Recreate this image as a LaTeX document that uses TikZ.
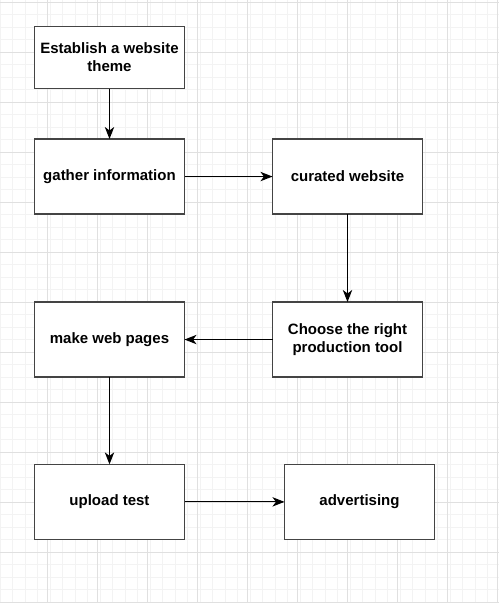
\documentclass[tikz,border=0pt]{standalone}
\usepackage{fontspec}
\setmainfont{Liberation Sans}
\usepackage{xcolor}
\usepackage{tikz}
\usetikzlibrary{positioning,arrows.meta}
\definecolor{boxline}{RGB}{68,68,68}
\definecolor{gridminor}{RGB}{243,243,243}
\definecolor{gridmajor}{RGB}{224,224,224}
\tikzset{
  box/.style  = {draw=boxline, line width=1pt, fill=white, align=center, outer sep=0pt,
                 minimum width=112.5pt, minimum height=56.25pt,
                 font=\bfseries\fontsize{11.25}{13.3}\selectfont},
  flow/.style = {-{Stealth[length=9pt,width=7pt,inset=2.6pt]}, line width=0.9pt, draw=black},
}

\begin{document}
\begin{tikzpicture}[x=0.75pt, y=-0.75pt]
  \useasboundingbox (0,0) rectangle (499,603);
  % grid
  \foreach \gx in {0,12.5,...,499} \draw[gridminor, line width=0.75pt] (\gx,0) -- (\gx,603);
  \foreach \gy in {2,14.5,...,603} \draw[gridminor, line width=0.75pt] (0,\gy) -- (499,\gy);
  \foreach \gx in {47.5,97.5,...,499} \draw[gridmajor, line width=0.75pt] (\gx,0) -- (\gx,603);
  \foreach \gy in {2,52,...,603} \draw[gridmajor, line width=0.75pt] (0,\gy) -- (499,\gy);

  \node[box, minimum height=46.9pt] (theme) at (109.5,57.5) {Establish a website\\theme};
  \node[box, below=37.7pt of theme] (gather) {gather information};
  \node[box, right=66pt of gather] (curated) {curated website};
  \node[box, below=66pt of curated] (tool) {Choose the right\\production tool};
  \node[box, left=66pt of tool] (pages) {make web pages};
  \node[box, below=65.5pt of pages] (upload) {upload test};
  \node[box, right=75pt of upload] (advert) {advertising};

  \draw[flow] (theme) -- (gather);
  \draw[flow] (gather) -- (curated);
  \draw[flow] (curated) -- (tool);
  \draw[flow] (tool) -- (pages);
  \draw[flow] (pages) -- (upload);
  \draw[flow] (upload) -- (advert);
\end{tikzpicture}
\end{document}
